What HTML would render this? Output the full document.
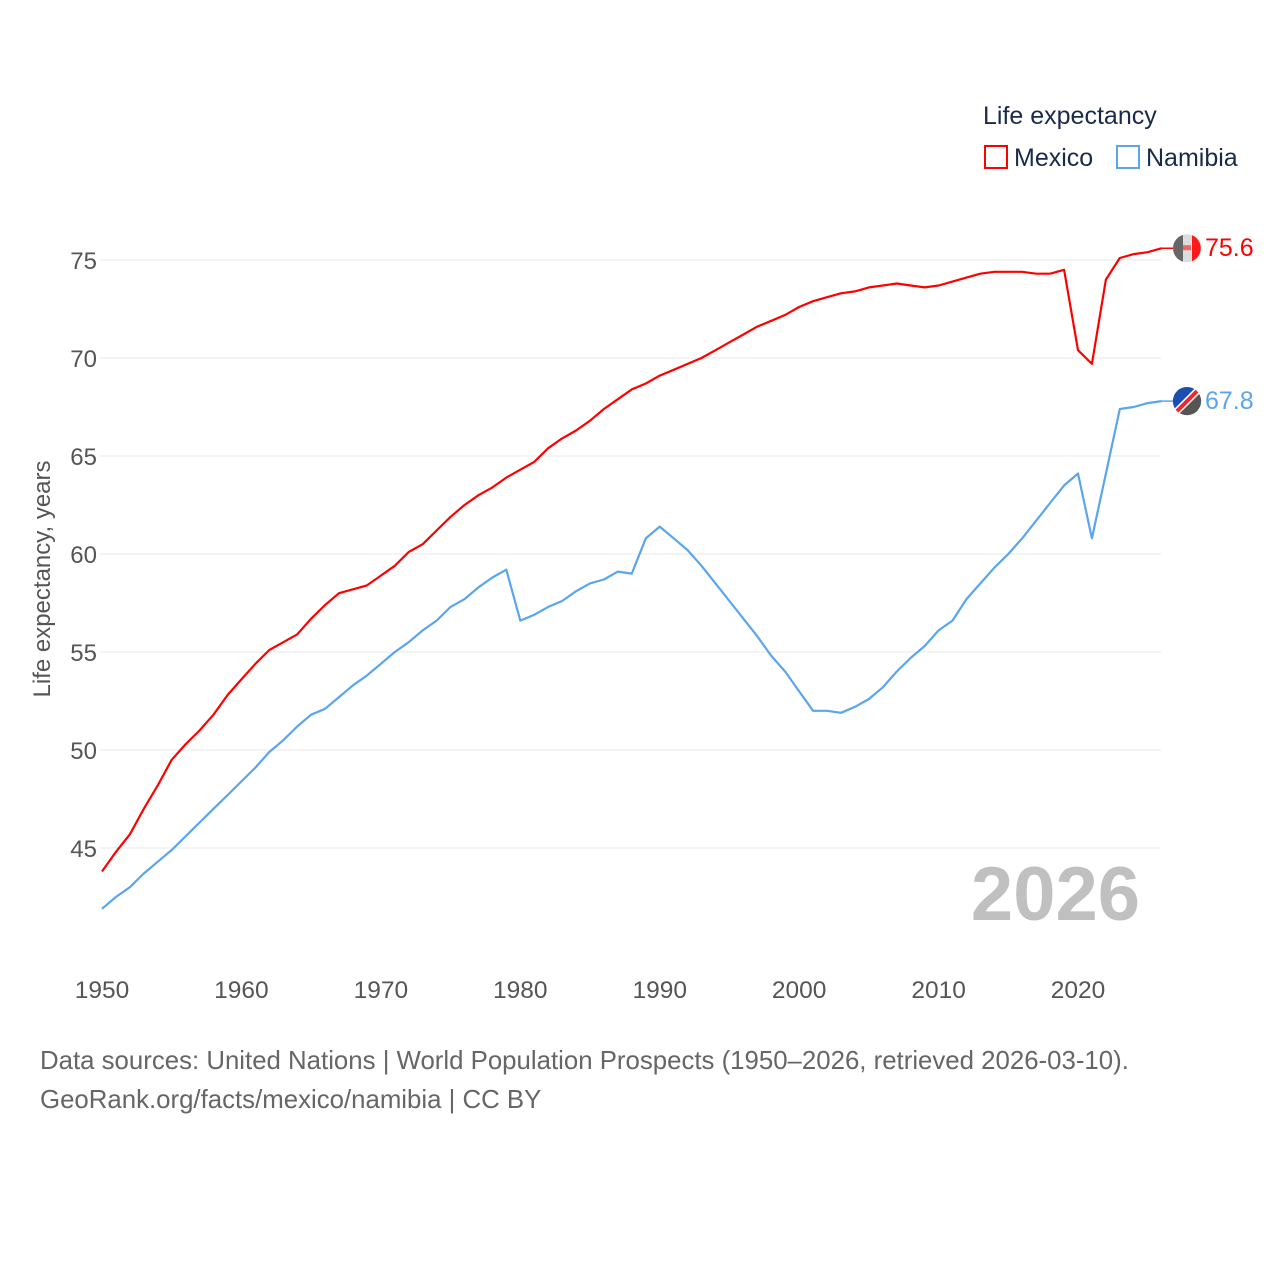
<!DOCTYPE html>
<html><head><meta charset="utf-8">
<style>
body{margin:0;background:#fff;font-family:"Liberation Sans",sans-serif;}
svg text{font-family:"Liberation Sans",sans-serif;}
</style></head>
<body>
<svg id="chart" width="1280" height="1280" viewBox="0 0 1280 1280">
  <g id="grid"></g>
  <g id="xticks"></g>
  <g id="series"></g>
  <text x="1140" y="920" text-anchor="end" font-size="76" font-weight="bold" fill="#c0c0c0">2026</text>
  <text transform="translate(50,579) rotate(-90)" text-anchor="middle" font-size="24" fill="#555">Life expectancy, years</text>
  <g>
    <text x="983" y="124" font-size="25" fill="#1a2a4a">Life expectancy</text>
    <g>
      <rect x="985" y="146" width="22" height="22" fill="none" stroke="#ff0000" stroke-width="2"/>
      <text x="1014" y="166" font-size="25" fill="#1a2a4a">Mexico</text>
    </g>
    <g>
      <rect x="1117" y="146" width="22" height="22" fill="none" stroke="#5aa5ee" stroke-width="2"/>
      <text x="1146" y="166" font-size="25" fill="#1a2a4a">Namibia</text>
    </g>
  </g>
  <text x="40" y="1069" font-size="25.8" fill="#666">Data sources: United Nations | World Population Prospects (1950–2026, retrieved 2026-03-10).</text>
  <text x="40" y="1108" font-size="25.8" fill="#666">GeoRank.org/facts/mexico/namibia | CC BY</text>
</svg>
<script>
const years = [];
for (let y = 1950; y <= 2026; y++) years.push(y);
const mexico = [43.8,44.8,45.7,47.0,48.2,49.5,50.3,51.0,51.8,52.8,53.6,54.4,55.1,55.5,55.9,56.7,57.4,58.0,58.2,58.4,58.9,59.4,60.1,60.5,61.2,61.9,62.5,63.0,63.4,63.9,64.3,64.7,65.4,65.9,66.3,66.8,67.4,67.9,68.4,68.7,69.1,69.4,69.7,70.0,70.4,70.8,71.2,71.6,71.9,72.2,72.6,72.9,73.1,73.3,73.4,73.6,73.7,73.8,73.7,73.6,73.7,73.9,74.1,74.3,74.4,74.4,74.4,74.3,74.3,74.5,70.4,69.7,74.0,75.1,75.3,75.4,75.6];
const namibia = [41.9,42.5,43.0,43.7,44.3,44.9,45.6,46.3,47.0,47.7,48.4,49.1,49.9,50.5,51.2,51.8,52.1,52.7,53.3,53.8,54.4,55.0,55.5,56.1,56.6,57.3,57.7,58.3,58.8,59.2,56.6,56.9,57.3,57.6,58.1,58.5,58.7,59.1,59.0,60.8,61.4,60.8,60.2,59.4,58.5,57.6,56.7,55.8,54.8,54.0,53.0,52.0,52.0,51.9,52.2,52.6,53.2,54.0,54.7,55.3,56.1,56.6,57.7,58.5,59.3,60.0,60.8,61.7,62.6,63.5,64.1,60.8,64.1,67.4,67.5,67.7,67.8];
const yTicks = [45,50,55,60,65,70,75];
const xTicks = [1950,1960,1970,1980,1990,2000,2010,2020];

const NS = "http://www.w3.org/2000/svg";
const xS = y => 102 + (y - 1950) * (1078 - 102) / 70;
const yS = v => 260 + (75 - v) * 19.6;
function mk(tag, attrs, parent){const e=document.createElementNS(NS,tag);for(const k in attrs)e.setAttribute(k,attrs[k]);parent.appendChild(e);return e;}

const grid = document.getElementById('grid');
yTicks.forEach(t => {
  const l = mk('line',{x1:100,x2:1161,y1:yS(t),y2:yS(t),stroke:'#e8e8e8','stroke-width':1},grid);
  
  
  const tx = mk('text',{x:97,y:yS(t)+9,'text-anchor':'end','font-size':24,fill:'#555'},grid);
  tx.textContent = t;
  
  
});
const xg = document.getElementById('xticks');
xTicks.forEach(t => {
  const tx = mk('text',{x:xS(t),y:998,'text-anchor':'middle','font-size':24.5,fill:'#555'},xg);
  tx.textContent = t;
  
  
});

const sg = document.getElementById('series');
function drawSeries(vals, color, name){
  const d = vals.map((v,i)=>(i?'L':'M')+xS(years[i]).toFixed(1)+','+yS(v).toFixed(1)).join(' ');
  const p = mk('path',{d:d,fill:'none',stroke:color,'stroke-width':2.2,'stroke-linejoin':'round'},sg);
  
  
  const last = vals[vals.length-1];
  const cy = yS(last);
  mk('line',{x1:xS(years[years.length-1]),x2:1173,y1:cy,y2:cy,stroke:color,'stroke-width':1.5},sg);
  const c = mk('circle',{cx:1187,cy:cy,r:14,fill:'#ddd'},sg);
  
  
  if(name==='mexico'){
    mk('path',{d:`M1183,${cy-13.4} A14,14 0 0,0 1183,${cy+13.4} Z`,fill:'#666'},sg);
    mk('path',{d:`M1192,${cy-13} A14,14 0 0,1 1192,${cy+13} Z`,fill:'#ff1a1a'},sg);
    mk('rect',{x:1183,y:cy-3,width:8,height:5,fill:'#e66'},sg);
  } else {
    mk('path',{d:`M1177,${cy+10} A14,14 0 0,1 1197,${cy-10} Z`,fill:'#1a4fb0'},sg);
    mk('path',{d:`M1177,${cy+10} A14,14 0 0,0 1197,${cy-10} Z`,fill:'#555'},sg);
    mk('line',{x1:1177,y1:cy+10,x2:1197,y2:cy-10,stroke:'#fff','stroke-width':7},sg);
    mk('line',{x1:1177,y1:cy+10,x2:1197,y2:cy-10,stroke:'#f22','stroke-width':4},sg);
  }
  const lt = mk('text',{x:1205,y:cy+8,'font-size':25,fill:color},sg);
  lt.textContent = last.toFixed(1);
  
  
}
drawSeries(mexico,'#ff0000','mexico');
drawSeries(namibia,'#5aa5ee','namibia');
</script>
</body></html>
